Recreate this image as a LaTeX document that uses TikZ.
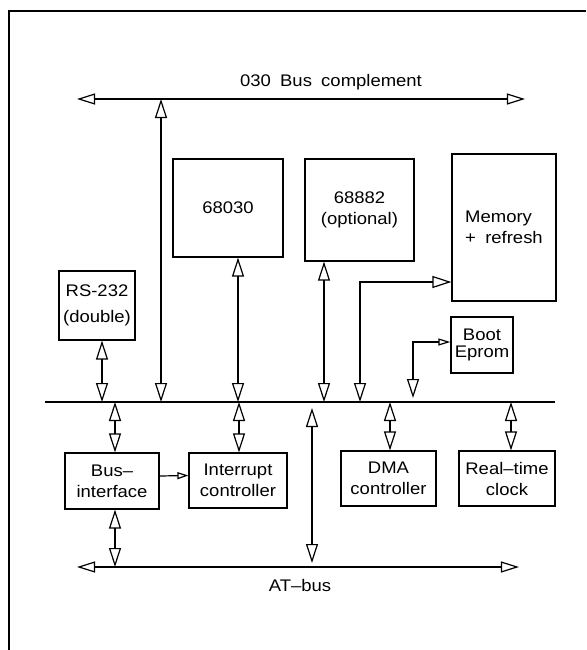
\documentclass[tikz,border=0pt]{standalone}
\usepackage{fontspec}
\setmainfont{Liberation Sans}[FakeStretch=1.1,WordSpace=1.8]
\usetikzlibrary{arrows.meta,calc}
\tikzset{
  font=\fontsize{8.4}{10.5}\selectfont,
  blk/.style={draw,line width=0.6pt,inner sep=1pt,align=center},
  bus/.style={line width=0.6pt,
              {Triangle[open,length=9pt,width=5.5pt]}-{Triangle[open,length=9pt,width=5.5pt]}},
  dlink/.style={line width=0.6pt,
              {Triangle[open,length=9.5pt,width=6pt]}-{Triangle[open,length=9.5pt,width=6pt]}},
  slink/.style={line width=0.6pt,-{Triangle[open,length=5.5pt,width=3.5pt]}},
  lbl/.style={inner sep=1pt},
}

\begin{document}
\begin{tikzpicture}[x=0.5pt,y=-0.5pt]
  \useasboundingbox (0,0) rectangle (586,650);
  \draw[line width=1pt] (9,650) -- (9,11) -- (586,11);

  % the three buses
  \coordinate (tbW) at (77,99);  \coordinate (tbE) at (525,99);
  \coordinate (mbW) at (45,402); \coordinate (mbE) at (555,402);
  \coordinate (abW) at (77,567); \coordinate (abE) at (519,567);
  \draw[bus] (tbW) -- (tbE);
  \draw[line width=0.6pt] (mbW) -- (mbE);
  \draw[bus] (abW) -- (abE);
  \node[lbl] (tblbl) at (331,82) {030 Bus complement};
  \node[lbl] (ablbl) at (300,585) {AT--bus};

  % blocks
  \node[blk,minimum width=55pt,minimum height=49pt] (cpu) at (228,208) {68030};
  \node[blk,minimum width=54.5pt,minimum height=51pt] (fpu) at (359.5,210) {68882\\(optional)};
  \node[blk,minimum width=52pt,minimum height=73.5pt,align=left] (mem) at (504,227.5) {Memory\\+ refresh};
  \node[blk,minimum width=38pt,minimum height=34.5pt] (rs) at (97,305.5) {RS-232\\[2.5pt](double)};
  \node[blk,minimum width=31pt,minimum height=28pt] (boot) at (482,345) {Boot\\[-2pt]Eprom};
  \node[blk,minimum width=47pt,minimum height=28pt] (busif) at (112,481) {Bus--\\interface};
  \node[blk,minimum width=49pt,minimum height=27.5pt] (irq) at (238,480.5) {Interrupt\\controller};
  \node[blk,minimum width=47.5pt,minimum height=27.5pt] (dma) at (388.5,478.5) {DMA\\controller};
  \node[blk,minimum width=48pt,minimum height=27.5pt] (rtc) at (507,478.5) {Real--time\\clock};

  % taps on the main bus
  \coordinate (rsTap) at (102,402);
  \coordinate (ifTap) at (115,402);
  \coordinate (tbTap) at (161,402);
  \coordinate (cpuTap) at (238,402);
  \coordinate (irqTap) at (239,402);
  \coordinate (atTap) at (312,402);
  \coordinate (fpuTap) at (324,402);
  \coordinate (memTap) at (360,402);
  \coordinate (dmaTap) at (390,402);
  \coordinate (bootTap) at (413,398);
  \coordinate (rtcTap) at (511,402);

  % upper side
  \draw[dlink] (tbTap |- tbW) -- (tbTap);
  \draw[dlink] (rsTap |- rs.south) -- (rsTap);
  \draw[dlink] (cpuTap |- cpu.south) -- (cpuTap);
  \draw[dlink] (fpuTap |- fpu.south) -- (fpuTap);
  \draw[dlink] (memTap) |- ($(mem.west)+(0,54.5)$);
  \draw[line width=0.6pt,
        {Triangle[open,length=9.5pt,width=6pt]}-{Triangle[open,length=6pt,width=3.5pt]}]
    (bootTap) |- ($(boot.west)+(0,-3)$);

  % lower side
  \draw[dlink] (ifTap) -- (ifTap |- busif.north);
  \draw[dlink] (ifTap |- busif.south) -- (ifTap |- abW);
  \draw[dlink] (irqTap) -- (irqTap |- irq.north);
  \draw[dlink,shorten <=3pt,shorten >=2pt] (atTap) -- (atTap |- abW);
  \draw[dlink] (dmaTap) -- (dmaTap |- dma.north);
  \draw[dlink] (rtcTap) -- (rtcTap |- rtc.north);
  \draw[slink] ([yshift=2.5pt]busif.east) -- ([yshift=2.5pt]irq.west);
\end{tikzpicture}
\end{document}
